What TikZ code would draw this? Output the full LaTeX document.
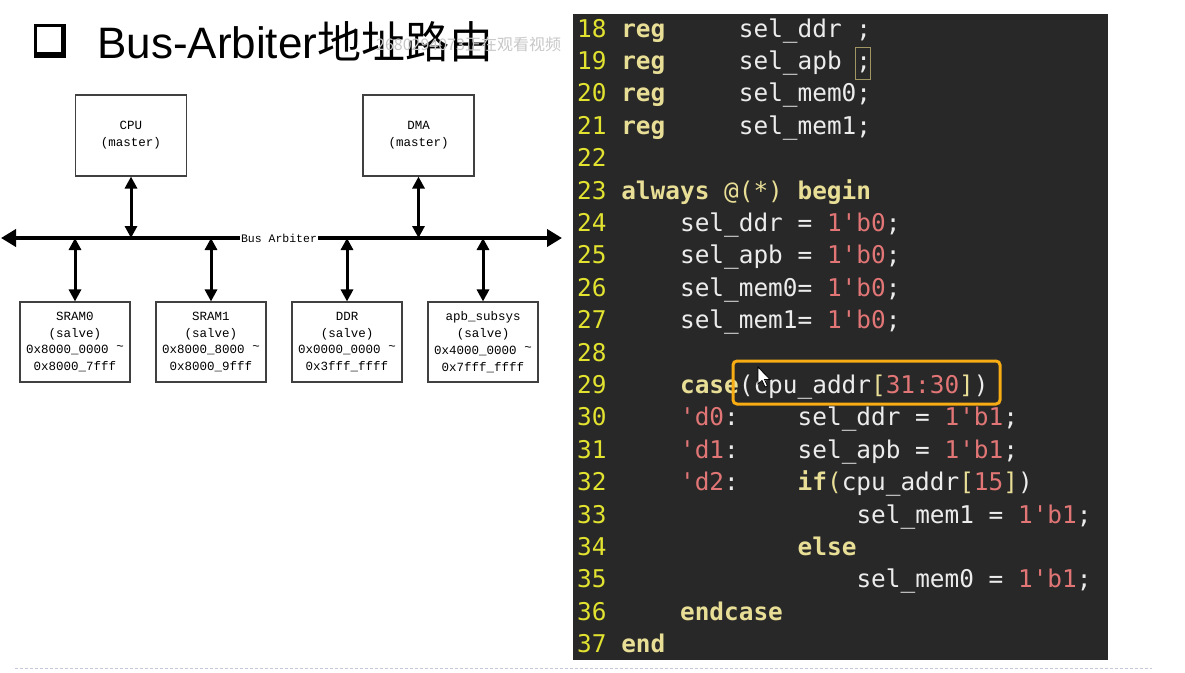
\documentclass[tikz,border=0pt]{standalone}
\usepackage{fontspec}
\usetikzlibrary{arrows.meta}
\newfontfamily\codefont{DejaVu Sans Mono}
\newfontfamily\boxfont{Liberation Mono}
\newfontfamily\headfont{Liberation Sans}
\newfontfamily\cjk{Noto Sans CJK SC}
\definecolor{panelbg}{RGB}{40,40,40}
\definecolor{lnum}{RGB}{226,226,48}
\definecolor{kwcol}{RGB}{232,222,150}
\definecolor{idcol}{RGB}{236,236,236}
\definecolor{numcol}{RGB}{226,118,118}
\definecolor{hlbox}{RGB}{246,172,18}
\definecolor{matchbox}{RGB}{160,150,100}
\definecolor{sepline}{RGB}{196,200,220}
\newcommand\kw[1]{\textcolor{kwcol}{\bfseries #1}}
\newcommand\nm[1]{\textcolor{numcol}{#1}}
\newcommand\br[1]{\textcolor{kwcol}{#1}}
\begin{document}
\begin{tikzpicture}[x=1pt, y=-1pt,
  declare function={codey(\n)=37+(\n-18)*32.4; codex(\c)=577+\c*14.7;},
  unit/.style={draw=black!75, line width=1.1pt, minimum width=111pt,
    minimum height=81pt, align=center,
    font=\boxfont\fontsize{12.5}{16.8}\selectfont},
  link/.style={{Triangle[length=12pt,width=12pt]}-{Triangle[length=12pt,width=12pt]},
    line width=3pt},
  bus/.style={{Triangle[length=15pt,width=17pt]}-{Triangle[length=15pt,width=17pt]},
    line width=4.5pt},
  code/.style={anchor=base west, inner sep=0pt, text=idcol,
    font=\codefont\fontsize{24.4}{28}\selectfont},
  lineno/.style={code, text=lnum}]
\useasboundingbox (0,0) rectangle (1185,672);
% title
\fill (34,24) rectangle (66,58);
\fill[white] (37,27) rectangle (60.5,52);
\node[anchor=base west, inner sep=0pt, font=\headfont\fontsize{44}{50}\selectfont]
  (title) at (97,58) {Bus-Arbiter{\cjk 地址路由}};
\node[anchor=base west, inner sep=0pt, text=black!22, font=\cjk\fontsize{16}{18}\selectfont]
  (mark) at (376,50) {2680294073正在观看视频};
% bus
\node[unit] (cpu) at (131,135.5) {CPU\\(master)};
\node[unit] (dma) at (418.5,135.5) {DMA\\(master)};
\coordinate (busl) at (1,238);
\coordinate (busr) at (562,238);
\draw[bus] (busl) -- (busr);
\node[fill=white, inner sep=1pt, font=\boxfont\fontsize{11.5}{12}\selectfont]
  (arb) at (279,238) {Bus Arbiter};
\draw[link] (cpu.south) -- (cpu.south |- arb);
\draw[link] (dma.south) -- (dma.south |- arb);
\foreach \nm/\x/\lbl/\lo/\hi in {sram0/75/SRAM0/0x8000\_0000/0x8000\_7fff,
    sram1/211/SRAM1/0x8000\_8000/0x8000\_9fff,
    ddr/347/DDR/0x0000\_0000/0x3fff\_ffff,
    apb/483/apb\_subsys/0x4000\_0000/0x7fff\_ffff}{
  \node[unit, minimum width=110pt, minimum height=80pt] (\nm) at (\x,342)
    {\lbl\\(salve)\\\lo\ \raisebox{3pt}{\textasciitilde}\\\hi};
  \draw[link] (\nm.north) -- (\nm.north |- arb);
}
% code panel
\fill[panelbg] (573,14) rectangle (1108,660);
\foreach \n in {18,...,37}
  \node[lineno] (n\n) at ({codex(0)},{codey(\n)}) {\n};
\node[code] (r18) at ({codex(3)},{codey(18)}) {\kw{reg}};
\node[code] (v18) at ({codex(11)},{codey(18)}) {sel\_ddr ;};
\node[code] (r19) at ({codex(3)},{codey(19)}) {\kw{reg}};
\node[code] (v19) at ({codex(11)},{codey(19)}) {sel\_apb ;};
\draw[matchbox, line width=1pt] ({codex(19)-0.5},{codey(19)-22}) rectangle ({codex(20)-0.5},{codey(19)+10});
\node[code] (r20) at ({codex(3)},{codey(20)}) {\kw{reg}};
\node[code] (v20) at ({codex(11)},{codey(20)}) {sel\_mem0;};
\node[code] (r21) at ({codex(3)},{codey(21)}) {\kw{reg}};
\node[code] (v21) at ({codex(11)},{codey(21)}) {sel\_mem1;};
\node[code] (c23) at ({codex(3)},{codey(23)}) {\kw{always} \br{@(*)} \kw{begin}};
\node[code] (c24) at ({codex(7)},{codey(24)}) {sel\_ddr = \nm{1'b0};};
\node[code] (c25) at ({codex(7)},{codey(25)}) {sel\_apb = \nm{1'b0};};
\node[code] (c26) at ({codex(7)},{codey(26)}) {sel\_mem0= \nm{1'b0};};
\node[code] (c27) at ({codex(7)},{codey(27)}) {sel\_mem1= \nm{1'b0};};
\node[code] (c29) at ({codex(7)},{codey(29)}) {\kw{case}(cpu\_addr\br{[}\nm{31:30}\br{]})};
\node[code] (k30) at ({codex(7)},{codey(30)}) {\nm{'d0}:};
\node[code] (c30) at ({codex(15)},{codey(30)}) {sel\_ddr = \nm{1'b1};};
\node[code] (k31) at ({codex(7)},{codey(31)}) {\nm{'d1}:};
\node[code] (c31) at ({codex(15)},{codey(31)}) {sel\_apb = \nm{1'b1};};
\node[code] (k32) at ({codex(7)},{codey(32)}) {\nm{'d2}:};
\node[code] (c32) at ({codex(15)},{codey(32)}) {\kw{if}\br{(}cpu\_addr\br{[}\nm{15}\br{]})};
\node[code] (c33) at ({codex(19)},{codey(33)}) {sel\_mem1 = \nm{1'b1};};
\node[code] (c34) at ({codex(15)},{codey(34)}) {\kw{else}};
\node[code] (c35) at ({codex(19)},{codey(35)}) {sel\_mem0 = \nm{1'b1};};
\node[code] (c36) at ({codex(7)},{codey(36)}) {\kw{endcase}};
\node[code] (c37) at ({codex(3)},{codey(37)}) {\kw{end}};
\draw[hlbox, line width=3pt, rounded corners=4pt] (733,361) rectangle (1000,404);
\draw[fill=white, line width=0.8pt, shift={(758,367)}] (0,0) -- (0,17) -- (4,13.5)
  -- (7,20) -- (9.5,19) -- (6.5,12.5) -- (12,12.5) -- cycle;
\draw[sepline, line width=0.8pt, dash pattern=on 3pt off 2pt] (15,668) -- (1152,668);
\end{tikzpicture}
\end{document}
